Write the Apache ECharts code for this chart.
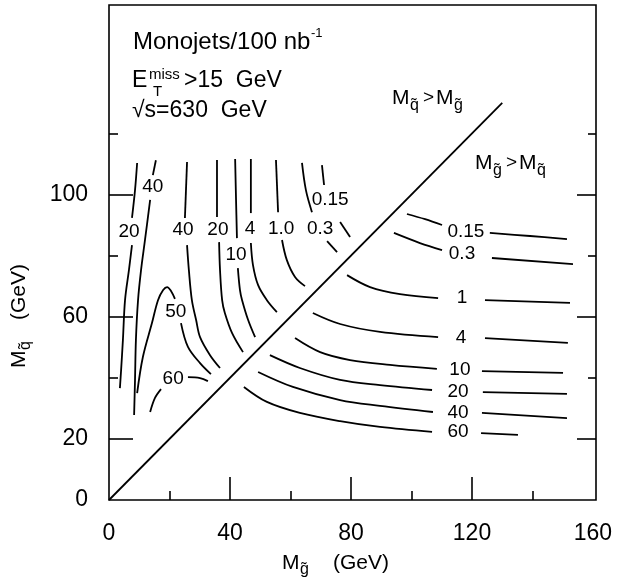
<!DOCTYPE html>
<html>
<head>
<meta charset="utf-8">
<script src="https://cdn.jsdelivr.net/npm/echarts@6/dist/echarts.min.js"></script>
<style>html,body{margin:0;padding:0;background:#fff}#c{width:618px;height:582px}</style>
</head>
<body>
<div id="c"></div>
<script>
// Axis ranges / ticks
const xRange = [0, 161];
const yRange = [0, 162];
const xTickLabels = [0, 40, 80, 120, 160];
const xLongTicks = [40, 80, 120];
const xShortTicks = [20, 60, 100, 140];
const yTickLabels = [0, 20, 60, 100];
const yLongTicks = [20, 60, 100];
const yShortTicks = [40, 80, 120];

// Diagonal M_gluino = M_squark
const diagonal = [[0, 0], [130, 130]];

// Contour segments (M_gluino, M_squark) in GeV
// Upper-left region (M_squark > M_gluino)
const c20L_a = [[9.3,110.3],[8.6,101.4],[7.6,92.3]];
const c20L_b = [[7.6,83.4],[6.6,75.3],[5.3,65.4],[4.6,52.4],[4.0,42.5],[3.6,36.6]];
const c40L_a = [[15.5,111.2],[14.5,106.3]];
const c40L_b = [[13.6,98.2],[11.9,85.1],[10.6,75.3],[9.6,65.4],[8.9,52.4],[8.6,39.3],[8.3,27.8]];
const c50_a = [[9.3,35.0],[11.2,46.8],[14.2,57.9],[16.2,65.4],[17.9,68.7],[19.2,69.7],[20.5,68.4],[21.8,65.8]];
const c50_b = [[23.8,57.9],[26.1,50.1],[30.1,44.8],[33.7,41.2]];
const c60L_a = [[13.6,28.8],[15.2,33.4],[17.2,36.3]];
const c60L_b = [[26.1,40.2],[30.1,39.9],[32.7,38.9]];
const c40M_a = [[25.8,110.6],[25.1,92.3]];
const c40M_b = [[25.8,83.4],[26.4,75.3],[27.4,65.4],[28.8,58.9],[30.1,53.3],[33.4,47.4],[36.7,43.2]];
const c20M_a = [[35.7,111.3],[35.7,92.6]];
const c20M_b = [[36.4,84.4],[36.7,75.3],[37.4,65.4],[38.3,61.2],[40.7,54.6],[44.3,48.4]];
const c10M_a = [[41.7,111.6],[42.0,98.2],[42.3,85.7]];
const c10M_b = [[42.6,75.9],[43.3,68.7],[44.0,65.4],[46.0,58.9],[48.3,53.3]];
const c4M_a = [[46.9,111.6],[46.9,93.9]];
const c4M_b = [[46.9,84.1],[47.6,76.9],[49.3,70.3],[52.2,65.4],[55.5,61.5]];
const c1M_a = [[55.2,111.3],[55.9,94.2]];
const c1M_b = [[57.2,85.1],[58.8,78.5],[61.5,73.0],[64.8,70.0]];
const c03M_a = [[63.8,110.3],[65.1,101.4],[67.1,94.2]];
const c03M_b = [[72.1,84.7],[75.4,81.1]];
const c015M_a = [[70.4,109.6],[71.1,103.1]];
const c015M_b = [[76.4,91.0],[79.7,86.1]];
// Lower-right region (M_gluino > M_squark)
const r015_a = [[98.5,93.6],[104.5,91.9],[110.1,90.0]];
const r015_b = [[125.9,87.4],[139.2,86.4],[151.4,85.4]];
const r03_a = [[94.2,87.4],[102.8,84.1],[110.1,81.8]];
const r03_b = [[126.6,79.2],[153.4,77.2]];
const r1_a = [[78.7,73.6],[86.3,69.7],[96.2,67.4],[108.8,66.1]];
const r1_b = [[124.3,65.4],[152.4,64.5]];
const r4_a = [[67.4,61.2],[76.4,57.6],[89.6,55.0],[108.8,53.3]];
const r4_b = [[124.3,53.0],[151.7,51.4]];
const r10_a = [[61.5,53.0],[69.8,48.4],[79.7,45.8],[92.9,44.2],[108.4,42.9]];
const r10_b = [[123.3,42.2],[150.1,41.6]];
const r20_a = [[53.2,47.4],[63.1,43.2],[76.4,39.3],[89.6,37.6],[106.8,36.0]];
const r20_b = [[123.6,35.3],[151.4,34.7]];
const r40_a = [[49.3,41.9],[60.8,37.0],[76.4,32.7],[89.6,30.8],[107.1,28.8]];
const r40_b = [[123.3,28.5],[151.4,26.8]];
const r60_a = [[44.6,37.0],[52.2,32.1],[63.1,28.5],[76.4,25.8],[89.6,23.9],[106.8,22.3]];
const r60_b = [[123.0,21.9],[135.2,21.3]];

const contourSegments = [
  c20L_a, c20L_b, c40L_a, c40L_b, c50_a, c50_b, c60L_a, c60L_b,
  c40M_a, c40M_b, c20M_a, c20M_b, c10M_a, c10M_b, c4M_a, c4M_b,
  c1M_a, c1M_b, c03M_a, c03M_b, c015M_a, c015M_b,
  r015_a, r015_b, r03_a, r03_b, r1_a, r1_b, r4_a, r4_b,
  r10_a, r10_b, r20_a, r20_b, r40_a, r40_b, r60_a, r60_b
];

// Contour value labels and their positions
const contourLabelText = ['20','40','50','60','40','20','10','4','1.0','0.3','0.15',
                          '0.15','0.3','1','4','10','20','40','60'];
const contourLabelPos = [[6.6,87.7],[14.5,102.4],[22.1,61.5],[21.2,39.6],[24.5,88.3],[36.0,88.3],
  [42.0,80.2],[46.6,88.7],[56.9,88.7],[69.8,88.7],[73.1,98.2],
  [118.0,87.7],[116.7,80.5],[116.7,66.1],[116.4,53.0],[116.0,42.5],[115.4,35.3],[115.4,28.5],[115.4,22.2]];

const FONT = 'Liberation Sans, Arial, sans-serif';
const BLACK = '#000';

function txt(x, y, text, size, align) {
  return { type: 'text', x: x, y: y, silent: true,
    style: { text: text, fill: BLACK, fontSize: size, fontFamily: FONT,
             align: align || 'left', verticalAlign: 'middle' } };
}

const series = contourSegments.map(seg => ({
  type: 'line', data: seg, smooth: 0.35, symbol: 'none', silent: true,
  lineStyle: { color: BLACK, width: 1.8 }
}));
series.push({ type: 'line', data: diagonal, symbol: 'none', silent: true,
  lineStyle: { color: BLACK, width: 1.8 } });
series.push({
  type: 'scatter', symbolSize: 1, silent: true,
  itemStyle: { color: 'rgba(0,0,0,0)', opacity: 1 },
  data: contourLabelText.map((t, i) => ({ name: t, value: contourLabelPos[i] })),
  label: { show: true, position: 'inside', formatter: '{b}', color: BLACK, opacity: 1,
           textBorderWidth: 0, fontSize: 19, fontFamily: FONT }
});

function xAxisDef(ticks, len, labels) {
  return { type: 'value', min: xRange[0], max: xRange[1], position: 'bottom', offset: 0,
    axisLine: { show: false }, splitLine: { show: false },
    axisTick: { show: true, inside: true, length: len, customValues: ticks,
                lineStyle: { color: BLACK, width: 1.6 } },
    axisLabel: labels ? { show: true, customValues: labels, margin: 22, color: BLACK,
                          fontSize: 23, fontFamily: FONT } : { show: false } };
}
function yAxisDef(pos, ticks, len, labels) {
  return { type: 'value', min: yRange[0], max: yRange[1], position: pos, offset: 0,
    axisLine: { show: false }, splitLine: { show: false },
    axisTick: { show: true, inside: true, length: len, customValues: ticks,
                lineStyle: { color: BLACK, width: 1.6 } },
    axisLabel: labels ? { show: true, customValues: labels, margin: 21, color: BLACK,
                          fontSize: 23, fontFamily: FONT } : { show: false } };
}

const chart = echarts.init(document.getElementById('c'), null, { renderer: 'canvas' });
chart.setOption({
  animation: false,
  backgroundColor: '#fff',
  grid: { left: 109, right: 22, top: 5, bottom: 82, show: true,
          borderColor: BLACK, borderWidth: 1.6, backgroundColor: 'transparent' },
  xAxis: [ xAxisDef(xLongTicks, 23, xTickLabels), xAxisDef(xShortTicks, 9, null) ],
  yAxis: [ yAxisDef('left', yLongTicks, 24, yTickLabels), yAxisDef('left', yShortTicks, 9, null),
           yAxisDef('right', yLongTicks, 19, null), yAxisDef('right', yShortTicks, 8, null) ],
  series: series,
  graphic: [
    // top-left annotation
    txt(133, 42, 'Monojets/100 nb', 24),
    txt(311, 33, '-1', 13),
    txt(132, 81, 'E', 23),
    txt(149, 75, 'miss', 15),
    txt(153, 92, 'T', 15),
    txt(184, 81, '>15  GeV', 23),
    txt(132, 111, '\u221As=630  GeV', 23),
    // region labels
    txt(392, 98, 'M', 21), txt(410, 106, 'q\u0303', 16), txt(423, 98, '>', 19),
    txt(436, 98, 'M', 21), txt(454, 106, 'g\u0303', 16),
    txt(475, 163, 'M', 21), txt(493, 171, 'g\u0303', 16), txt(506, 163, '>', 19),
    txt(519, 163, 'M', 21), txt(537, 171, 'q\u0303', 16),
    // x axis title
    txt(282, 563, 'M', 21), txt(300, 570, 'g\u0303', 16), txt(333, 563, '(GeV)', 21),
    // y axis title (rotated)
    { type: 'group', x: 19, y: 368, rotation: Math.PI / 2, children: [
        txt(0, 0, 'M', 21), txt(18, 7, 'q\u0303', 16), txt(48, 0, '(GeV)', 21)
    ] }
  ]
});
</script>
</body>
</html>
